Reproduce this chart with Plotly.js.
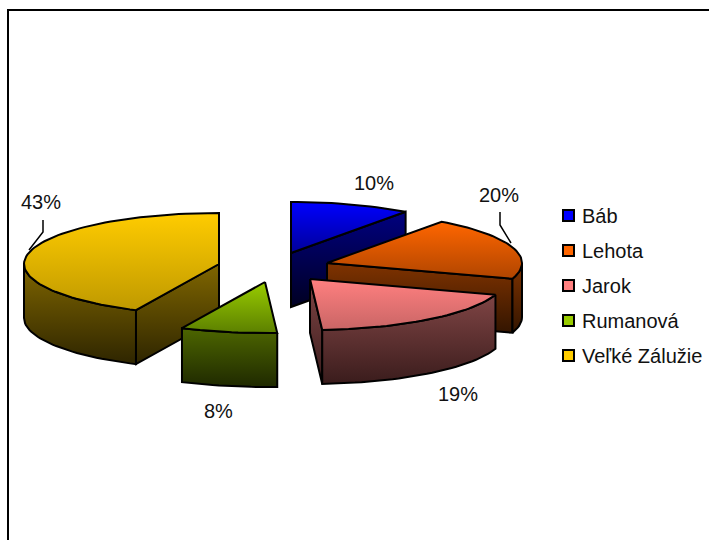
<!DOCTYPE html>
<html>
<head>
<meta charset="utf-8">
<script src="https://cdn.plot.ly/plotly-3.0.1.min.js"></script>
<style>html,body{margin:0;padding:0;background:#fff}#chart{width:709px;height:540px}</style>
</head>
<body>
<div id="chart"></div>
<script>
// Data
const categories = ['Báb', 'Lehota', 'Jarok', 'Rumanová', 'Veľké Zálužie'];
const values = [10, 20, 19, 8, 43];

// Colours: top face (light, dark) and wall (light, dark)
const topLight = ['#0000ff', '#ff6600', '#ff8080', '#99cc00', '#ffcc00'];
const topDark = ['#000099', '#b04500', '#c96565', '#5c8000', '#bf9900'];
const wallLight = ['#000080', '#803300', '#804545', '#4d6600', '#806600'];
const wallDark = ['#000022', '#331500', '#3a1c1c', '#1f2900', '#2e2500'];

// Exploded slice apexes, in pixels of the page
const apexX = [291, 327, 310, 265, 219];
const apexY = [253, 263, 279, 282, 264];
const drawOrder = [0, 1, 2, 4, 3];

// Percent labels
const labelX = [374, 499, 458, 218, 41];
const labelY = [183, 195, 394, 411, 202];

// Pie projection
const RX = 195, RY = 51, DEPTH = 54;
const FONT = 'Liberation Sans, Arial, sans-serif';
const TEXT = 20;

const total = values.reduce((a, b) => a + b, 0);
const rad = d => d * Math.PI / 180;
let cum = 0;
const slices = values.map((v, i) => {
  const a0 = cum / total * 360;
  cum += v;
  return {i, a0, a1: cum / total * 360, cx: apexX[i], cy: apexY[i]};
});
const rim = (s, a) => [s.cx + RX * Math.sin(rad(a)), s.cy - RY * Math.cos(rad(a))];
const arc = (s, from, to) => {
  const n = Math.max(2, Math.ceil(Math.abs(to - from) / 2));
  const out = [];
  for (let k = 0; k <= n; k++) out.push(rim(s, from + (to - from) * k / n));
  return out;
};
const poly = (pts, light, dark) => ({
  type: 'scatter', mode: 'lines', x: pts.map(p => p[0]), y: pts.map(p => p[1]),
  fill: 'toself', showlegend: false, hoverinfo: 'skip',
  line: {color: '#000', width: 2, shape: 'linear'},
  fillgradient: {type: 'vertical', colorscale: [[0, dark], [1, light]]}
});
const down = p => [p[0], p[1] + DEPTH];

const traces = [];
drawOrder.forEach(idx => {
  const s = slices[idx];
  const lit = wallLight[idx], drk = wallDark[idx];
  const apex = [s.cx, s.cy];
  // radial wall faces that look towards the viewer
  if (Math.sin(rad(s.a0)) < -1e-6) {
    const r = rim(s, s.a0);
    traces.push(poly([apex, r, down(r), down(apex), apex], lit, drk));
  }
  if (Math.sin(rad(s.a1)) > 1e-6) {
    const r = rim(s, s.a1);
    traces.push(poly([apex, r, down(r), down(apex), apex], lit, drk));
  }
  // curved outer wall, front half only
  const from = Math.max(s.a0, 90), to = Math.min(s.a1, 270);
  if (to > from) {
    const top = arc(s, from, to);
    const bottom = top.slice().reverse().map(down);
    const pts = top.concat(bottom, [top[0]]);
    traces.push(poly(pts, lit, drk));
  }
  // top face
  const face = [apex].concat(arc(s, s.a0, s.a1), [apex]);
  traces.push(poly(face, topLight[idx], topDark[idx]));
});

// Legend keys
categories.forEach((c, i) => {
  traces.push({
    type: 'scatter', mode: 'markers', x: [null], y: [null], name: c,
    legendgroup: c, showlegend: true, hoverinfo: 'skip',
    marker: {symbol: 'square', size: 11, color: topLight[i], line: {color: '#000', width: 2}}
  });
});

const annotations = values.map((v, i) => ({
  x: labelX[i], y: labelY[i], xref: 'x', yref: 'y', text: v + '%', showarrow: false,
  xanchor: 'center', yanchor: 'middle', font: {family: FONT, size: TEXT, color: '#111'}
}));

const leader = pts => ({
  type: 'path', xref: 'x', yref: 'y',
  path: pts.map((p, i) => (i ? 'L' : 'M') + p[0] + ',' + p[1]).join(' '),
  line: {color: '#000', width: 1.5}
});

const layout = {
  width: 709, height: 540,
  margin: {l: 0, r: 0, t: 0, b: 0, pad: 0},
  paper_bgcolor: '#fff', plot_bgcolor: '#fff',
  xaxis: {range: [0, 709], visible: false, fixedrange: true},
  yaxis: {range: [540, 0], visible: false, fixedrange: true},
  showlegend: true,
  legend: {
    x: 554 / 709, y: 1 - 196 / 540, xanchor: 'left', yanchor: 'top',
    bgcolor: 'rgba(0,0,0,0)', borderwidth: 0,
    font: {family: FONT, size: TEXT, color: '#111'},
    tracegroupgap: 6, indentation: -12, itemclick: false, itemdoubleclick: false
  },
  annotations: annotations,
  shapes: [
    {type: 'line', xref: 'x', yref: 'y', x0: 7, x1: 709, y0: 10, y1: 10, line: {color: '#000', width: 2}},
    {type: 'line', xref: 'x', yref: 'y', x0: 8, x1: 8, y0: 9, y1: 540, line: {color: '#000', width: 2}},
    leader([[43, 220], [43, 232], [29, 250]]),
    leader([[500, 212], [500, 225], [511, 243]])
  ]
};

Plotly.newPlot('chart', traces, layout, {displayModeBar: false}).then(gd => {
  // the legend key sits closer to its label than Plotly's fixed gap allows
  gd.querySelectorAll('.legend .legendsymbols').forEach(el => {
    el.setAttribute('transform', 'translate(6.5,0) ' + (el.getAttribute('transform') || ''));
  });
});
</script>
</body>
</html>
